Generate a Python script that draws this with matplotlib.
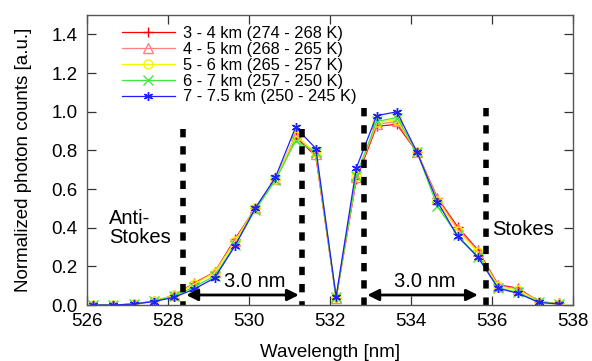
import matplotlib
matplotlib.use('Agg')
import matplotlib.pyplot as plt

plt.rcParams['font.family'] = ['Liberation Sans', 'DejaVu Sans']

# wavelength of each measured point [nm]
wl = [526.15, 526.65, 527.15, 527.65, 528.15, 528.65, 529.15, 529.65,
      530.15, 530.65, 531.15, 531.65, 532.15, 532.65, 533.15, 533.65,
      534.15, 534.65, 535.15, 535.65, 536.15, 536.65, 537.15, 537.65]

# normalized photon counts per altitude range
km3_4 = [0.0, 0.0, 0.005, 0.02, 0.05, 0.115, 0.17, 0.34, 0.50, 0.65, 0.87, 0.77,
         0.035, 0.65, 0.925, 0.935, 0.79, 0.555, 0.405, 0.285, 0.105, 0.087, 0.018, 0.008]
km4_5 = [0.0, 0.0, 0.005, 0.02, 0.05, 0.11, 0.17, 0.33, 0.50, 0.65, 0.88, 0.78,
         0.035, 0.66, 0.935, 0.95, 0.79, 0.55, 0.395, 0.28, 0.10, 0.083, 0.018, 0.008]
km5_6 = [0.0, 0.0, 0.005, 0.02, 0.05, 0.11, 0.165, 0.33, 0.50, 0.65, 0.875, 0.79,
         0.04, 0.67, 0.945, 0.96, 0.79, 0.54, 0.385, 0.275, 0.097, 0.078, 0.017, 0.007]
km6_7 = [0.0, 0.0, 0.005, 0.02, 0.045, 0.095, 0.15, 0.31, 0.49, 0.645, 0.85, 0.79,
         0.04, 0.67, 0.95, 0.97, 0.79, 0.51, 0.36, 0.25, 0.09, 0.065, 0.015, 0.006]
km7_75 = [0.0, 0.0, 0.005, 0.018, 0.04, 0.083, 0.14, 0.305, 0.50, 0.66, 0.92, 0.81,
          0.043, 0.71, 0.98, 1.0, 0.79, 0.535, 0.355, 0.248, 0.087, 0.06, 0.014, 0.005]

labels = ['3 - 4 km (274 - 268 K)', '4 - 5 km (268 - 265 K)', '5 - 6 km (265 - 257 K)',
          '6 - 7 km (257 - 250 K)', '7 - 7.5 km (250 - 245 K)']

# filter edges (dashed) and their heights
edges_as = [528.38, 531.3]
edges_st = [532.85, 535.85]
edge_top_as = 0.91
edge_top_st = 1.02

fig = plt.figure(figsize=(5.92, 3.61), dpi=100)
ax = fig.add_axes([0.147, 0.155, 0.821, 0.803])

series = [km3_4, km4_5, km5_6, km6_7, km7_75]
styles = [('#ff0000', '+'), ('#ff8080', '^'), ('#f5f500', 'o'),
          ('#40e840', 'x'), ('#2020ff', (6, 2, 0))]
for y, lab, (c, m) in zip(series, labels, styles):
    ax.plot(wl, y, color=c, marker=m, mfc='none', mec=c, ms=6.5, lw=0.9, mew=1.0, label=lab)

# dashed filter edges, drawn top-down so the pattern starts at the top
for x in edges_as:
    ax.plot([x, x], [edge_top_as, 0], color='black', lw=4, ls=(0, (1.5, 1.6)),
            dash_capstyle='butt')
for x in edges_st:
    ax.plot([x, x], [edge_top_st, 0], color='black', lw=4, ls=(0, (1.5, 1.6)),
            dash_capstyle='butt')

# arrows with 3.0 nm
for a, b in [(528.45, 531.23), (532.92, 535.65)]:
    ax.annotate('', xy=(a, 0.052), xytext=(b, 0.052),
                arrowprops=dict(arrowstyle='<|-|>', color='black', lw=2,
                                mutation_scale=17, shrinkA=0, shrinkB=0))
ax.text(530.15, 0.124, '3.0 nm', ha='center', va='center', fontsize=14.5)
ax.text(534.33, 0.124, '3.0 nm', ha='center', va='center', fontsize=14.5)

ax.text(526.55, 0.40, 'Anti-\nStokes', ha='left', va='center', fontsize=14.5, linespacing=1.0)
ax.text(536.0, 0.39, 'Stokes', ha='left', va='center', fontsize=14.5)

ax.set_xlim(526, 538)
ax.set_ylim(0, 1.5)
ax.set_xticks([526, 528, 530, 532, 534, 536, 538])
ax.set_yticks([0.0, 0.2, 0.4, 0.6, 0.8, 1.0, 1.2, 1.4])
ax.set_yticklabels(['0.0', '0.2', '0.4', '0.6', '0.8', '1.0', '1.2', '1.4'])
ax.tick_params(direction='in', length=6.5, width=0.9, top=True, right=True,
               labelsize=13.5, color='#333333')
ax.tick_params(axis='x', pad=5.5)
ax.tick_params(axis='y', pad=7)
for s in ax.spines.values():
    s.set_color('#555555')
    s.set_linewidth(1.0)

ax.set_xlabel('Wavelength [nm]', fontsize=13.5)
ax.xaxis.set_label_coords(0.5, -0.135)
ax.set_ylabel('Normalized photon counts [a.u.]', fontsize=13.5)
ax.yaxis.set_label_coords(-0.113, 0.5)

ax.legend(loc='upper left', bbox_to_anchor=(0.059, 0.985), frameon=False,
          fontsize=11.8, handlelength=3.2, labelspacing=0.05, handletextpad=0.5,
          borderaxespad=0)

fig.savefig('out.png', dpi=100)
